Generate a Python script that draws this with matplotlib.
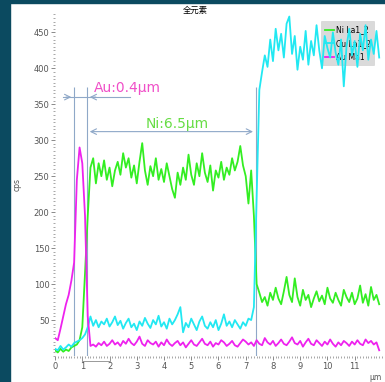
import numpy as np
import matplotlib.pyplot as plt
from matplotlib.patches import Rectangle
from matplotlib.ticker import MultipleLocator

plt.rcParams['font.family'] = ['DejaVu Sans', 'Noto Sans CJK SC']

# line scan, sampled every 0.1 um
x_um = np.round(np.arange(120) * 0.1, 1)

ni = [8, 5, 10, 6, 9, 7, 12, 14, 16, 22,
      40, 115, 195, 262, 275,
      240, 268, 250, 272, 245, 262, 236, 258, 270, 252,
      282, 262, 275, 248, 265, 240, 270, 296, 258, 238,
      264, 250, 275, 245, 260, 242, 268, 250, 232, 220,
      255, 238, 262, 245, 280, 252, 238, 268, 250, 282,
      255, 242, 265, 230, 258, 248, 270, 245, 262, 252,
      275, 258,
      270, 292, 265, 250, 212, 258, 195, 100, 88,
      75, 82, 70, 88, 78, 95, 80, 72, 90, 110,
      85, 75, 108, 82, 70, 92, 78, 85, 68, 80,
      90, 76, 84, 72, 95, 80, 74, 88, 78, 70,
      92, 82, 75, 88, 72, 80, 98, 74, 86, 70,
      96, 78, 85, 72]

cu = [10, 8, 14, 9, 12, 16, 13, 18, 20, 22,
      25, 30, 40, 55,
      42, 50, 40, 48, 44, 52, 41, 47, 55, 43,
      49, 38, 46, 52, 40, 45, 36, 48, 42, 53,
      45, 39, 50, 44, 56, 41, 47, 38, 52, 44,
      50, 58, 68, 33, 46, 40, 52, 44, 36, 48,
      55, 42, 38, 47, 40, 50, 36, 45, 58, 42,
      48, 40, 50, 44, 38, 47, 42, 52, 50,
      68, 220, 370,
      395, 418, 402, 440, 410, 455, 425, 448, 415, 462,
      472, 420, 445, 398, 430, 412, 452, 405, 438, 418,
      460, 425, 400, 445, 428, 415, 450, 422, 405, 440,
      375, 430, 455, 418, 438, 402, 448, 425, 460, 412,
      440, 420, 452, 415]

au = [25, 22, 38, 55, 72, 85, 105, 130, 245, 290,
      268, 195, 55, 14,
      16, 13, 18, 15, 20, 14, 17, 22, 16, 19,
      14, 21, 17, 24, 18, 15, 20, 27, 17, 14,
      22, 18, 16, 20, 13, 19, 15, 23, 17, 14,
      18, 21, 15, 19, 12, 17, 22, 16, 14, 19,
      24, 17, 15, 20, 13, 18, 16, 22, 19, 14,
      17, 21, 15, 13, 18, 23, 20, 16, 19, 14,
      22, 17, 15, 25, 19, 16, 21, 14, 18, 23,
      17, 15, 20, 26, 18, 16, 21, 13, 19, 24,
      17, 15, 22, 18, 14, 20, 16, 23, 17, 13,
      19, 15, 21, 18, 14, 20, 16, 22, 17, 15,
      23, 18, 21, 16, 19, 8]

labels = ['Ni La1_2', 'Cu La1_2', 'Au Ma1']
colors = ['#33ee22', '#22e8f2', '#ee22ee']

# layer boundaries for the thickness marks
au_left, au_right, ni_right = 0.7, 1.17, 7.37

fig = plt.figure(figsize=(3.85, 3.82), dpi=100)
fig.patches.append(Rectangle((0, 0), 10 / 385, 1, transform=fig.transFigure,
                             color='#0b4a60', zorder=0))
fig.patches.append(Rectangle((0, 1 - 3 / 382), 1, 3 / 382, transform=fig.transFigure,
                             color='#0b4a60', zorder=0))

ax = fig.add_axes([0.143, 0.068, 0.849, 0.90])
for ys, c, lab in zip([ni, cu, au], colors, labels):
    ax.plot(x_um, ys, color=c, lw=1.3, label=lab, zorder=3)

ax.set_xlim(0, 12.0)
ax.set_ylim(0, 478)
for s in ax.spines.values():
    s.set_visible(False)
ax.xaxis.set_minor_locator(MultipleLocator(0.1))
ax.yaxis.set_minor_locator(MultipleLocator(5))
ax.set_yticks(np.arange(50, 451, 50))
ax.set_xticks(np.arange(0, 12, 1))
ax.tick_params(which='major', length=3, width=0.6, color='#777777',
               labelsize=6, labelcolor='#555555', pad=1)
ax.tick_params(which='minor', length=1.2, width=0.6, color='#999999')

fig.text(195 / 385, 1 - 10 / 382, '全元素', family=['Noto Sans CJK SC'],
         fontsize=6, ha='center', va='center')
fig.text(17 / 385, 1 - 185 / 382, 'cps', rotation=90, fontsize=5.5,
         color='#555555', ha='center', va='center')
fig.text(375 / 385, 1 - 378 / 382, 'µm', fontsize=5.5, color='#555555',
         ha='center', va='center')

# thickness annotation
lc = '#8fa8c8'
ax.vlines([au_left, au_right, ni_right], 0, 374, color=lc, lw=0.8, zorder=2)
ax.plot([0.3, 2.75], [360, 360], color=lc, lw=0.8, zorder=2)
ax.annotate('', xy=(au_left, 360), xytext=(0.3, 360),
            arrowprops=dict(arrowstyle='->', color=lc, lw=0.8))
ax.annotate('', xy=(au_right, 360), xytext=(1.6, 360),
            arrowprops=dict(arrowstyle='->', color=lc, lw=0.8))
ax.annotate('', xy=(au_right, 312), xytext=(ni_right, 312),
            arrowprops=dict(arrowstyle='<->', color=lc, lw=0.8))
ax.text(1.43, 372, 'Au:0.4µm', color='#f050c8', fontsize=10, va='center')
ax.text(4.5, 323, 'Ni:6.5µm', color='#66dd44', fontsize=10,
        ha='center', va='center')

# small scroll bracket under the x axis
tr = ax.get_xaxis_transform()
ax.plot([1, 1, 2, 2], [-0.004, -0.014, -0.014, -0.004], color='#999999',
        lw=0.7, transform=tr, clip_on=False)

leg = ax.legend(loc='upper right', bbox_to_anchor=(0.98, 0.975), fontsize=5.5,
                handlelength=1.1, handletextpad=0.3, labelspacing=0.6,
                frameon=True, fancybox=True, borderpad=0.6, borderaxespad=0)
leg.get_frame().set_facecolor('#d4d4d4')
leg.get_frame().set_edgecolor('none')
leg.get_frame().set_alpha(0.85)
leg.set_zorder(1)

fig.savefig('out.png', dpi=100)
